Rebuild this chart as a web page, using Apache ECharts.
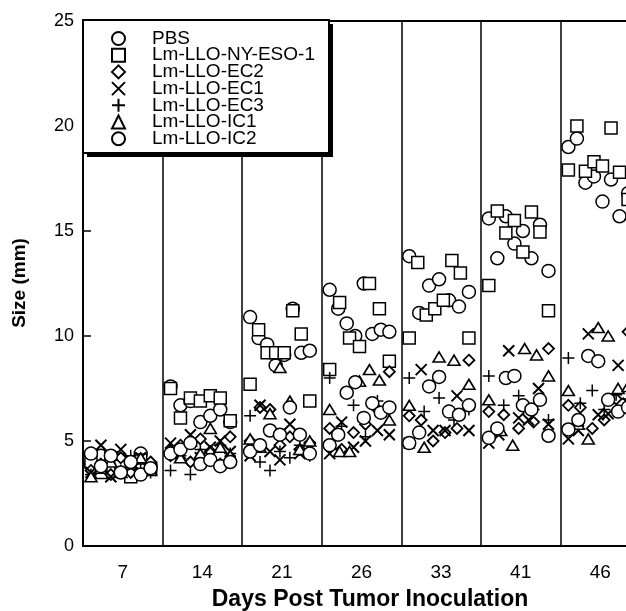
<!DOCTYPE html>
<html><head><meta charset="utf-8">
<script src="https://cdn.jsdelivr.net/npm/echarts@6/dist/echarts.min.js"></script>
<style>html,body{margin:0;padding:0;background:#fff}#c{width:626px;height:611px}</style>
</head><body><div id="c"></div>
<script>
const days = ['7', '14', '21', '26', '33', '41', '46'];
const seriesNames = ['PBS', 'Lm-LLO-NY-ESO-1', 'Lm-LLO-EC2', 'Lm-LLO-EC1', 'Lm-LLO-EC3', 'Lm-LLO-IC1', 'Lm-LLO-IC2'];
const yTicks = [0, 5, 10, 15, 20, 25];

// values per day group (7,14,21,26,33,41,46), each mouse left-to-right
const pbs = [
  [3.9, 4.3, 3.6, 4.1, 3.5, 4.4, 3.8],
  [7.6, 6.7, 6.9, 5.9, 6.2, 6.5, 5.9],
  [10.9, 9.9, 9.6, 8.6, 9.1, 11.3, 9.2, 9.3],
  [12.2, 11.3, 10.6, 10.0, 12.5, 10.1, 10.3, 10.2],
  [13.8, 11.1, 12.4, 12.7, 11.7, 11.4, 12.1],
  [15.6, 13.7, 15.7, 14.4, 15.0, 13.7, 15.3, 13.1],
  [19.0, 19.4, 17.3, 17.6, 16.4, 17.45, 15.7, 16.8]
];
const nyeso = [
  [4.0, 3.5, 4.2, 3.8, 3.3, 4.1, 3.7],
  [7.5, 6.1, 7.05, 6.9, 7.15, 7.05, 5.96],
  [7.7, 10.3, 9.2, 9.2, 9.2, 11.2, 10.1, 6.9],
  [8.4, 11.6, 9.9, 9.5, 12.5, 11.3, 8.8],
  [9.9, 13.5, 11.0, 11.3, 11.7, 13.6, 13.0, 9.9],
  [12.4, 15.95, 14.9, 15.5, 14.0, 15.9, 14.95, 11.2],
  [17.9, 20.0, 17.85, 18.3, 18.1, 19.9, 17.8, 16.5]
];
const ec2 = [
  [3.6, 3.9, 3.4, 4.2, 3.5, 3.8, 4.0],
  [4.3, 4.8, 4.0, 5.1, 4.5, 3.9, 5.2],
  [5.0, 6.6, 6.5, 4.8, 5.2, 4.6, 4.9],
  [5.6, 4.6, 5.4, 5.8, 6.5, 8.3],
  [6.2, 6.0, 5.0, 5.4, 5.6, 8.85],
  [6.4, 6.25, 5.6, 5.9, 9.4],
  [6.7, 6.6, 5.6, 6.0, 7.0, 10.2]
];
const ec1 = [
  [3.5, 4.8, 3.3, 4.6, 3.9, 4.2, 3.6],
  [4.9, 4.4, 5.3, 4.2, 4.7, 5.0, 4.5],
  [4.3, 6.7, 4.5, 4.1, 5.8, 4.4, 4.7],
  [4.4, 5.9, 4.7, 5.0, 5.5, 5.3],
  [4.9, 8.4, 5.5, 5.5, 7.15, 5.5],
  [4.9, 5.3, 9.3, 6.1, 6.0, 7.5, 5.8],
  [5.1, 5.5, 10.1, 6.25, 6.3, 8.6, 6.8]
];
const ec3 = [
  [3.4, 3.8, 4.1, 3.6, 4.3, 3.9, 3.5],
  [3.6, 4.3, 3.4, 4.6, 4.1, 4.8, 4.4],
  [6.2, 4.0, 3.6, 4.5, 4.2, 4.8, 4.3],
  [8.0, 5.7, 6.7, 5.2, 6.9, 6.5],
  [8.0, 6.4, 7.05, 6.0, 6.5],
  [8.1, 6.7, 7.15, 6.5, 6.0],
  [8.95, 6.8, 7.4, 6.5, 7.2, 7.0]
];
const ic1 = [
  [3.3, 3.7, 4.0, 3.5, 3.9, 4.2, 3.6],
  [4.6, 4.2, 5.0, 4.4, 5.6, 4.7, 4.3],
  [5.1, 4.7, 6.3, 8.5, 6.9, 4.6, 5.0],
  [6.5, 4.5, 4.5, 7.85, 8.4, 7.9, 6.0],
  [6.7, 4.7, 9.0, 8.85, 7.7],
  [6.96, 5.5, 4.8, 9.4, 9.1, 8.1],
  [7.4, 5.8, 5.1, 10.4, 10.0, 7.5, 7.6]
];
const ic2 = [
  [4.4, 3.8, 4.3, 3.5, 4.0, 3.4, 3.7],
  [4.4, 4.6, 4.9, 3.9, 4.1, 3.8, 4.0],
  [4.5, 4.8, 5.5, 5.3, 6.6, 5.3, 4.4],
  [4.8, 5.3, 7.3, 7.8, 6.1, 6.8, 6.35, 6.6],
  [4.9, 5.4, 7.6, 8.05, 6.4, 6.25, 6.7],
  [5.15, 5.6, 8.0, 8.1, 6.7, 6.5, 6.96, 5.25],
  [5.55, 6.0, 9.05, 8.8, 6.96, 6.4, 6.6]
];

const allValues = [pbs, nyeso, ec2, ec1, ec3, ic1, ic2];

const markers = [
  { symbol: 'circle', size: 13, bw: 1.5 },
  { symbol: 'rect', size: 12, bw: 1.5 },
  { symbol: 'diamond', size: 11, bw: 1.8 },
  { symbol: 'path://M0,0L10,10M10,0L0,10', size: 11, bw: 2 },
  { symbol: 'path://M5,0L5,10M0,5L10,5', size: 12, bw: 1.5 },
  { symbol: 'triangle', size: [12, 10], bw: 1.6 },
  { symbol: 'circle', size: 13, bw: 1.5 }
];

function toPoints(groups) {
  const pts = [];
  groups.forEach((vals, g) => {
    const n = vals.length;
    vals.forEach((v, i) => {
      pts.push([g + 0.1 + (n > 1 ? i * 0.75 / (n - 1) : 0.4), v]);
    });
  });
  return pts;
}

const series = seriesNames.map((name, k) => ({
  name: name,
  type: 'scatter',
  data: toPoints(allValues[k]),
  symbol: markers[k].symbol,
  symbolSize: markers[k].size,
  itemStyle: { color: '#fff', borderColor: '#000', borderWidth: markers[k].bw, opacity: 1 },
  emphasis: { disabled: true },
  silent: true,
  z: 2 + k * 0.01
}));

const chart = echarts.init(document.getElementById('c'), null, { renderer: 'canvas' });
chart.setOption({
  animation: false,
  backgroundColor: '#fff',
  grid: { left: 83, right: -14, top: 21, bottom: 65, show: true, borderColor: '#000', borderWidth: 2, outerBoundsMode: 'none' },
  xAxis: {
    type: 'value', min: 0, max: 7, interval: 1,
    axisLine: { show: true, lineStyle: { color: '#000', width: 2 } },
    axisTick: { show: false },
    splitLine: { show: true, lineStyle: { color: '#000', width: 1.5 } },
    axisLabel: {
      customValues: days.map((d, i) => i + 0.5),
      formatter: v => days[Math.floor(v)],
      color: '#000', fontSize: 19, fontFamily: 'Liberation Sans', margin: 17
    }
  },
  yAxis: {
    type: 'value', min: yTicks[0], max: yTicks[yTicks.length - 1], interval: 5,
    axisLine: { show: true, lineStyle: { color: '#000', width: 2 } },
    axisTick: { show: true, inside: true, length: 8, lineStyle: { color: '#000', width: 1.5 } },
    splitLine: { show: false },
    axisLabel: { color: '#000', fontSize: 18, fontFamily: 'Liberation Sans', margin: 9 }
  },
  legend: {
    orient: 'vertical', left: 111, top: 29, padding: 0, itemGap: -2.3,
    itemWidth: 13, itemHeight: 13, z: 60, selectedMode: false,
    data: seriesNames,
    textStyle: { color: '#000', fontSize: 19, fontFamily: 'Liberation Sans', padding: [0, 0, 0, 22] }
  },
  graphic: [
    { type: 'rect', z: 50, shape: { x: 87, y: 24, width: 246, height: 133 }, style: { fill: '#000' } },
    { type: 'rect', z: 51, shape: { x: 83, y: 20, width: 246, height: 133 }, style: { fill: '#fff', stroke: '#000', lineWidth: 2 } },
    { type: 'text', z: 60, x: 20, y: 283, rotation: Math.PI / 2,
      style: { text: 'Size (mm)', font: 'bold 19px "Liberation Sans"', fill: '#000', textAlign: 'center', textVerticalAlign: 'middle' } },
    { type: 'text', z: 60, x: 370, y: 600,
      style: { text: 'Days Post Tumor Inoculation', font: 'bold 23px "Liberation Sans"', fill: '#000', textAlign: 'center', textVerticalAlign: 'middle' } }
  ],
  series: series
});
</script></body></html>
